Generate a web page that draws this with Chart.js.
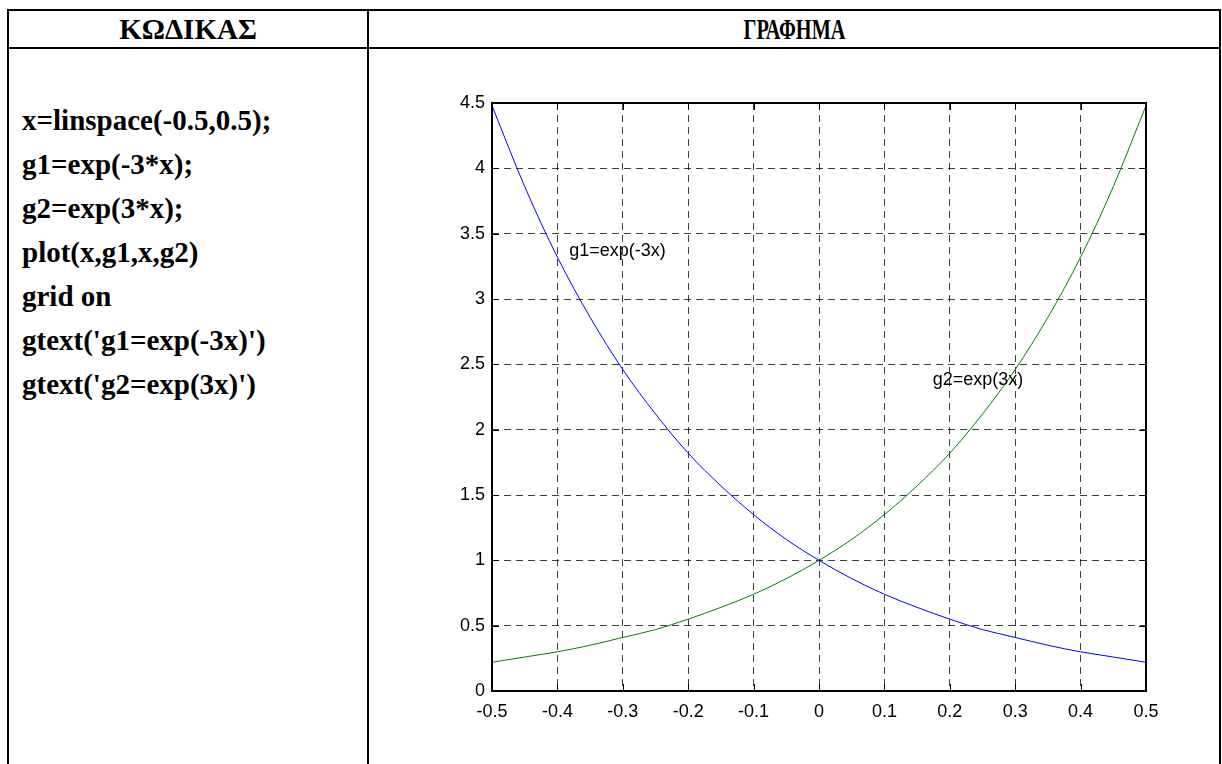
<!DOCTYPE html>
<html>
<head>
<meta charset="utf-8">
<script src="https://cdn.jsdelivr.net/npm/chart.js@4/dist/chart.umd.min.js"></script>
<style>
    body { margin: 0; background: #fff; }
    .frame { position: absolute; left: 7px; top: 9px; width: 1214px; height: 800px; border: 2px solid #000; box-sizing: border-box; }
    .hline { position: absolute; left: 7px; top: 47px; width: 1214px; height: 2px; background: #000; }
    .vline { position: absolute; left: 367px; top: 9px; width: 2px; height: 800px; background: #000; }
    .head { position: absolute; top: 13px; font: bold 29px "Liberation Serif", serif; text-align: center; line-height: 32px; }
    .code { position: absolute; left: 22px; top: 98px; font: bold 29px "Liberation Serif", serif; line-height: 44px; white-space: pre; }
    .plot { position: absolute; left: 370px; top: 50px; width: 850px; height: 714px; }
</style>
</head>
<body>
<div class="frame"></div>
<div class="hline"></div>
<div class="vline"></div>
<div class="head" style="left:9px;width:358px">ΚΩΔΙΚΑΣ</div>
<div class="head" style="left:369px;width:851px;transform:scaleX(0.7)">ΓΡΑΦΗΜΑ</div>
<div class="code">x=linspace(-0.5,0.5);
g1=exp(-3*x);
g2=exp(3*x);
plot(x,g1,x,g2)
grid on
gtext('g1=exp(-3x)')
gtext('g2=exp(3x)')</div>
<div class="plot"><canvas id="graph"></canvas></div>

<script>
// x samples and the two curves
var xValues = [-0.5, -0.45, -0.4, -0.35, -0.3, -0.25, -0.2, -0.15, -0.1, -0.05, 0, 0.05, 0.1, 0.15, 0.2, 0.25, 0.3, 0.35, 0.4, 0.45, 0.5]
var g1Values = [4.48, 3.86, 3.32, 2.86, 2.46, 2.12, 1.82, 1.57, 1.35, 1.16, 1.00, 0.86, 0.74, 0.64, 0.55, 0.47, 0.41, 0.35, 0.30, 0.26, 0.22]
var g2Values = [0.22, 0.26, 0.30, 0.35, 0.41, 0.47, 0.55, 0.64, 0.74, 0.86, 1.00, 1.16, 1.35, 1.57, 1.82, 2.12, 2.46, 2.86, 3.32, 3.86, 4.48]

// tick positions and their labels
var xTickValues = [-0.5, -0.4, -0.3, -0.2, -0.1, 0, 0.1, 0.2, 0.3, 0.4, 0.5]
var xTickLabels = ['-0.5', '-0.4', '-0.3', '-0.2', '-0.1', '0', '0.1', '0.2', '0.3', '0.4', '0.5']
var yTickValues = [0, 0.5, 1, 1.5, 2, 2.5, 3, 3.5, 4, 4.5]
var yTickLabels = ['0', '0.5', '1', '1.5', '2', '2.5', '3', '3.5', '4', '4.5']

// curve captions (gtext)
var captionTexts = ['g1=exp(-3x)', 'g2=exp(3x)']

var toPoints = function (ys) {
    return xValues.map(function (x, i) { return {x: x, y: ys[i]} })
}

var tickFont = {family: '"Liberation Sans", Arial, sans-serif', size: 18}

// box round the axes, inner tick marks and the gtext captions
var axesBox = {
    id: 'axesBox',
    afterDatasetsDraw: function (chart, args, opts) {
        var ctx = chart.ctx
        var a = chart.chartArea
        var sx = chart.scales.x
        var sy = chart.scales.y
        var len = 7
        ctx.save()
        ctx.strokeStyle = '#000'
        ctx.lineWidth = 1
        ctx.beginPath()
        xTickValues.forEach(function (v) {
            var px = Math.round(sx.getPixelForValue(v)) + 0.5
            ctx.moveTo(px, a.bottom); ctx.lineTo(px, a.bottom - len)
            ctx.moveTo(px, a.top); ctx.lineTo(px, a.top + len)
        })
        yTickValues.forEach(function (v) {
            var py = Math.round(sy.getPixelForValue(v)) + 0.5
            ctx.moveTo(a.left, py); ctx.lineTo(a.left + len, py)
            ctx.moveTo(a.right, py); ctx.lineTo(a.right - len, py)
        })
        ctx.stroke()
        ctx.lineWidth = 2
        ctx.strokeRect(Math.round(a.left), Math.round(a.top), Math.round(a.right - a.left), Math.round(a.bottom - a.top))

        ctx.fillStyle = '#000'
        ctx.font = '18px "Liberation Sans", Arial, sans-serif'
        ctx.textAlign = 'left'
        ctx.textBaseline = 'middle'
        opts.captions.forEach(function (c, i) {
            ctx.fillText(captionTexts[i], sx.getPixelForValue(c.x), sy.getPixelForValue(c.y))
        })
        ctx.restore()
    }
}

new Chart(document.getElementById('graph').getContext('2d'), {
    type: 'line',
    plugins: [axesBox],
    data: {
        datasets: [{
            data: toPoints(g1Values),
            borderColor: '#0000ff',
            borderWidth: 1,
            pointRadius: 0,
            cubicInterpolationMode: 'monotone',
            fill: false
        }, {
            data: toPoints(g2Values),
            borderColor: '#008000',
            borderWidth: 1,
            pointRadius: 0,
            cubicInterpolationMode: 'monotone',
            fill: false
        }]
    },
    options: {
        responsive: true,
        maintainAspectRatio: false,
        animation: false,
        events: [],
        layout: {
            padding: {left: 0, top: 53, right: 74, bottom: 0}
        },
        plugins: {
            legend: {display: false},
            tooltip: {enabled: false},
            axesBox: {
                captions: [{x: -0.382, y: 3.37}, {x: 0.174, y: 2.38}]
            }
        },
        scales: {
            x: {
                type: 'linear',
                min: -0.5,
                max: 0.5,
                afterBuildTicks: function (s) {
                    s.ticks = xTickValues.map(function (v) { return {value: v} })
                },
                afterFit: function (s) { s.height = 73 },
                ticks: {
                    callback: function (v, i) { return xTickLabels[i] },
                    color: '#000',
                    font: tickFont,
                    padding: 10,
                    maxRotation: 0,
                    autoSkip: false
                },
                grid: {color: 'rgba(0,0,0,0.75)', lineWidth: 1, drawTicks: false},
                border: {display: false, dash: [7, 5]}
            },
            y: {
                min: 0,
                max: 4.5,
                afterBuildTicks: function (s) {
                    s.ticks = yTickValues.map(function (v) { return {value: v} })
                },
                afterFit: function (s) { s.width = 122 },
                ticks: {
                    callback: function (v, i) { return yTickLabels[i] },
                    color: '#000',
                    font: tickFont,
                    padding: 7,
                    autoSkip: false
                },
                grid: {color: 'rgba(0,0,0,0.75)', lineWidth: 1, drawTicks: false},
                border: {display: false, dash: [7, 5]}
            }
        }
    }
})
</script>
</body>
</html>
